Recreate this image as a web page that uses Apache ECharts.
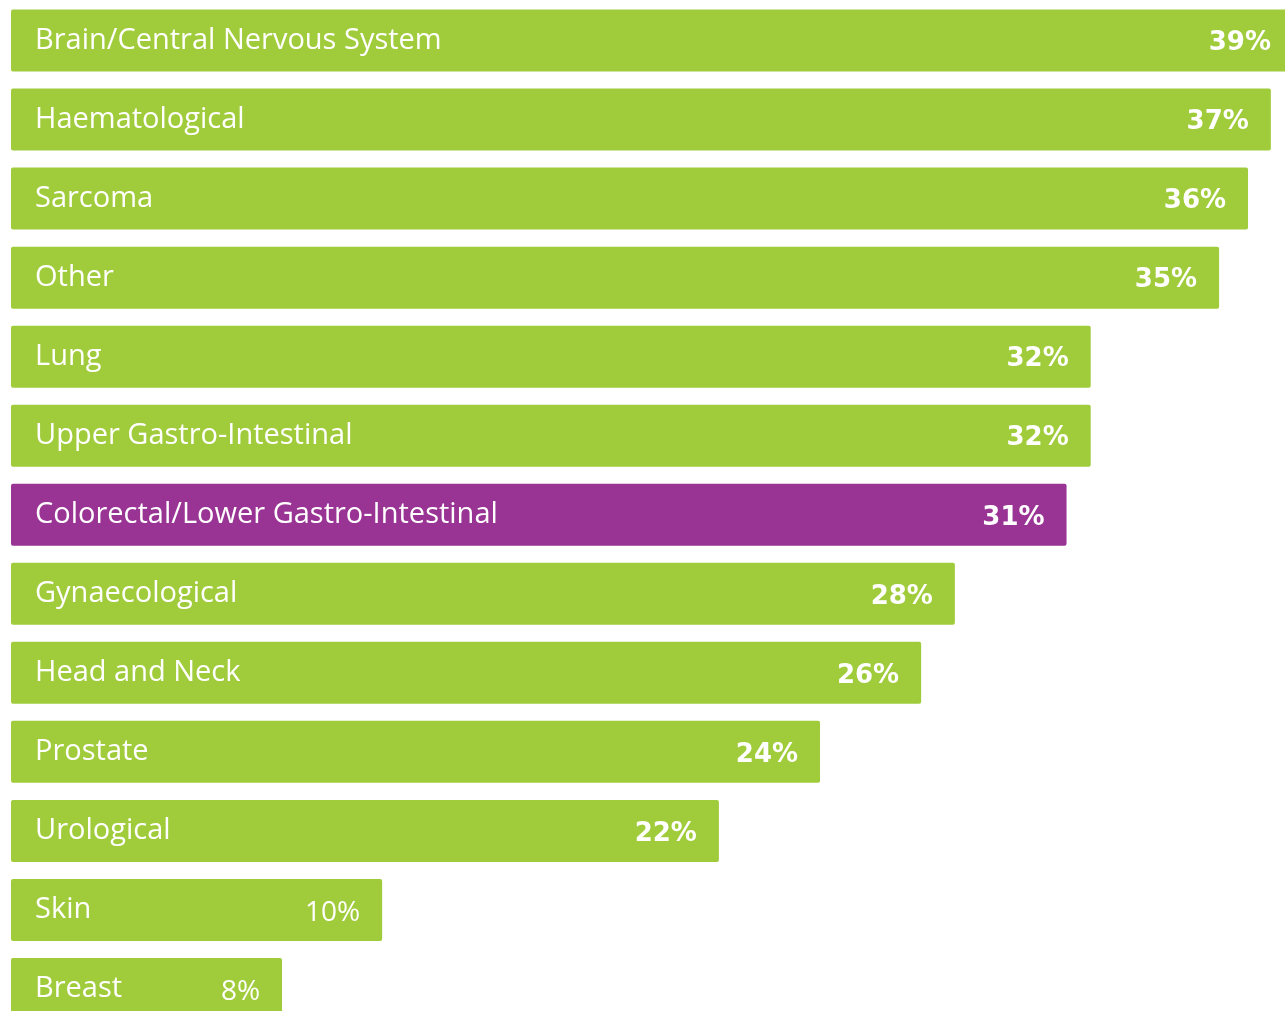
<!DOCTYPE html>
<html>
<head>
<meta charset="utf-8">
<script src="https://cdn.jsdelivr.net/npm/echarts@6/dist/echarts.min.js"></script>
<style>
html,body{margin:0;padding:0;background:#fff;}
#c{width:1285px;height:1011px;}
</style>
</head>
<body>
<div id="c"></div>
<script>
// Categories, top to bottom
var categories = ["Brain/Central Nervous System","Haematological","Sarcoma","Other","Lung","Upper Gastro-Intestinal","Colorectal/Lower Gastro-Intestinal","Gynaecological","Head and Neck","Prostate","Urological","Skin","Breast"];
// Displayed percentages
var percents = [39,37,36,35,32,32,31,28,26,24,22,10,8];
// Bar lengths as drawn in the picture (percent units, estimated from bar ends)
var barLengths = [37.65,37.0,36.33,35.48,31.71,31.71,31.0,27.72,26.73,23.76,20.79,10.9,7.96];
// Highlighted category
var highlight = "Colorectal/Lower Gastro-Intestinal";
// Small values use a light label weight
var lightLabels = ["Skin","Breast"];

var GREEN = "#a0cc3c", PURPLE = "#993394";
var FONT = "'Open Sans', Lato, sans-serif";
var VFONT = "'DejaVu Sans', 'Open Sans', sans-serif";

var chart = echarts.init(document.getElementById('c'), null, {renderer:'canvas'});

var mainData = barLengths.map(function(v,i){
  var light = lightLabels.indexOf(categories[i]) >= 0;
  return {
    value: v,
    itemStyle: {color: categories[i] === highlight ? PURPLE : GREEN},
    label: light ? {fontWeight: 'normal', fontFamily: FONT, fontSize: 28}
                 : {fontWeight: 'bold', fontFamily: VFONT, fontSize: 26}
  };
});

chart.setOption({
  animation: false,
  grid: {left: 11, top: 1, width: 1362, height: 1027.5, containLabel: false, outerBoundsMode: 'none'},
  xAxis: {type: 'value', min: 0, max: 40, show: false},
  yAxis: {type: 'category', data: categories, inverse: true, show: false},
  series: [
    {
      type: 'bar',
      data: mainData,
      barWidth: 62,
      barGap: '-100%',
      clip: false,
      itemStyle: {borderRadius: 2},
      label: {
        show: true,
        position: 'insideRight',
        distance: 22,
        offset: [0, 3],
        color: '#fff',
        formatter: function(p){ return percents[p.dataIndex] + '%'; }
      },
      z: 2
    },
    {
      type: 'bar',
      data: barLengths,
      barWidth: 62,
      barGap: '-100%',
      clip: false,
      itemStyle: {color: 'rgba(0,0,0,0)'},
      silent: true,
      label: {
        show: true,
        position: 'insideLeft',
        distance: 24,
        offset: [0, 0],
        color: '#fff',
        fontFamily: FONT,
        fontSize: 29,
        formatter: function(p){ return categories[p.dataIndex]; }
      },
      z: 3
    }
  ]
});
</script>
</body>
</html>
